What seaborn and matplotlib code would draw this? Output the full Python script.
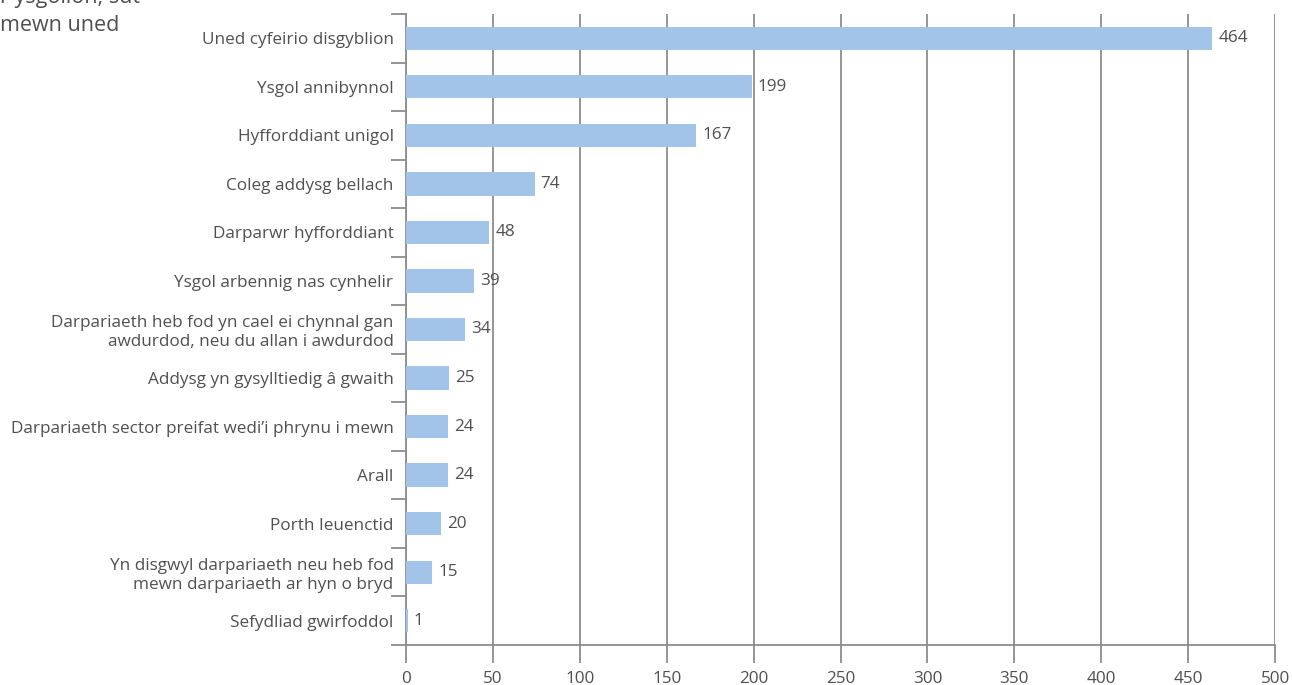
import matplotlib.pyplot as plt
import seaborn as sns
import pandas as pd
import numpy as np

categories = [
    "Uned cyfeirio disgyblion",
    "Ysgol annibynnol",
    "Hyfforddiant unigol",
    "Coleg addysg bellach",
    "Darparwr hyfforddiant",
    "Ysgol arbennig nas cynhelir",
    "Darpariaeth heb fod yn cael ei chynnal gan\nawdurdod, neu du allan i awdurdod",
    "Addysg yn gysylltiedig â gwaith",
    "Darpariaeth sector preifat wedi’i phrynu i mewn",
    "Arall",
    "Porth Ieuenctid",
    "Yn disgwyl darpariaeth neu heb fod\nmewn darpariaeth ar hyn o bryd",
    "Sefydliad gwirfoddol",
]
values = [464, 199, 167, 74, 48, 39, 34, 25, 24, 24, 20, 15, 1]
x_ticks = [0, 50, 100, 150, 200, 250, 300, 350, 400, 450, 500]

df = pd.DataFrame({"category": categories, "value": values})

sns.set_theme(style="white")
plt.rcParams["font.family"] = ["Open Sans", "DejaVu Sans"]
plt.rcParams["xtick.bottom"] = True
plt.rcParams["ytick.left"] = True

text_col = "#505050"
line_col = "#8c8c8c"
fs = 12.3

fig = plt.figure(figsize=(12.92, 6.85), dpi=100)
ax = fig.add_axes([406 / 1292, 1 - 645 / 685, (1275 - 406) / 1292, (645 - 14) / 685])

sns.barplot(data=df, y="category", x="value", orient="h", color="#a2c4e8",
            width=0.48, saturation=1, ax=ax, zorder=3, linewidth=0)

ax.set_xlim(0, 500)
ax.set_ylim(len(categories) - 0.5, -0.5)
ax.set_xticks(x_ticks)
ax.set_xlabel("")
ax.set_ylabel("")

for i, v in enumerate(values):
    ax.text(v + 3.5, i, str(v), va="center", ha="left", fontsize=fs, color=text_col, zorder=4)

# vertical gridlines
ax.grid(axis="x", color=line_col, linewidth=1.3, zorder=0)
ax.grid(axis="y", visible=False)

for s in ["top", "right"]:
    ax.spines[s].set_visible(False)
for s in ["left", "bottom"]:
    ax.spines[s].set_color(line_col)
    ax.spines[s].set_linewidth(1.3)

# ticks at category boundaries on y, labels centered
ax.set_yticks(np.arange(-0.5, len(categories), 1), minor=True)
ax.tick_params(axis="y", which="major", left=False, length=0, pad=9, labelsize=fs, labelcolor=text_col)
ax.tick_params(axis="y", which="minor", left=True, length=11, width=1.3, color=line_col, direction="out")
ax.tick_params(axis="x", which="major", bottom=True, length=13, width=1.3, color=line_col,
               direction="out", labelsize=fs, labelcolor=text_col, pad=6)

# title, partly cut off at the top-left in the original
fig.text(0.0, 1.003, "r ysgolion, sut", fontsize=15.5, color=text_col, ha="left", va="center")
fig.text(0.0, 0.963, "mewn uned", fontsize=15.5, color=text_col, ha="left", va="center")

fig.savefig("out.png", dpi=100)
